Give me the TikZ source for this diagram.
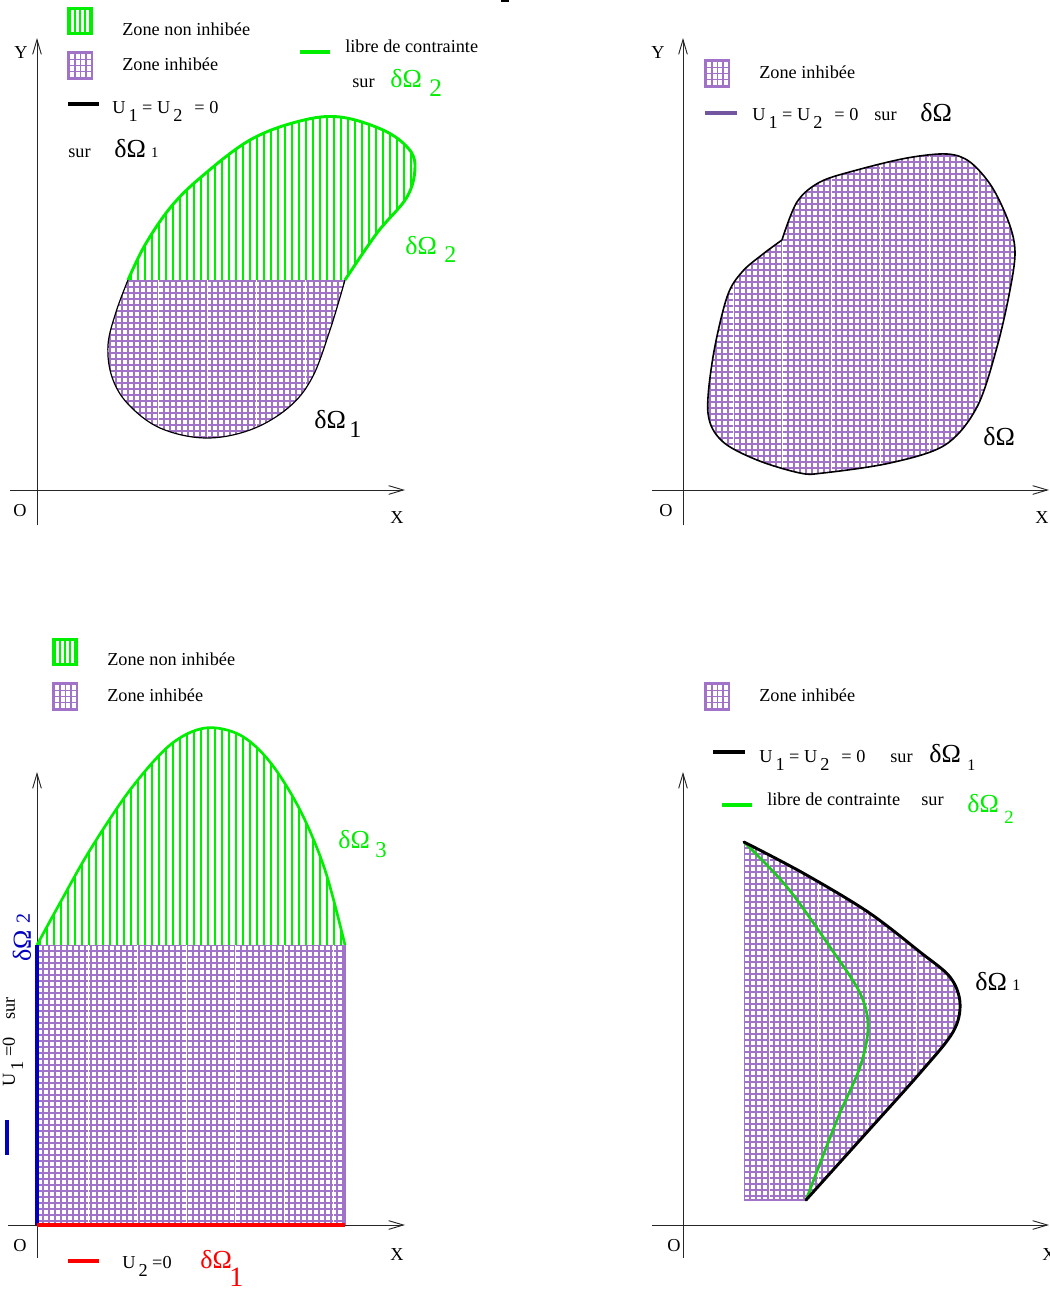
\documentclass[tikz,border=0pt]{standalone}
\usepackage{fontspec}
\setmainfont{Liberation Serif}
\usetikzlibrary{arrows.meta}
\definecolor{gpurple}{RGB}{160,114,200}
\definecolor{lgreen}{RGB}{0,238,0}
\definecolor{dgreen}{RGB}{30,200,30}
\definecolor{dblue}{RGB}{0,0,190}
\definecolor{lpurple}{RGB}{115,85,160}
\newcommand\fsz[1]{\fontsize{#1}{#1}\selectfont}
\newcommand\lo[1]{\raisebox{-6pt}{#1}}
\newcommand\dO{{\fsz{19.5pt}δΩ}}
\newcommand\psq[2]{%
  \fill[gpurple] (#1,#2) rectangle ++(26,29);
  \foreach \i in {0,1,2,3} \foreach \j in {0,1,2,3}
    {\fill[white] ({#1+3+5.6*\i},{#2+3+6*\j}) rectangle ++(4,4.5);}
}
\newcommand\gsq[2]{%
  \fill[lgreen] (#1,#2) rectangle ++(26,28);
  \foreach \i in {0,1,2,3}
    {\fill[white] ({#1+4+5*\i},{#2+3}) rectangle ++(3,22);}
}
% legend bar: x1, x2, y, colour
\newcommand\lbar[4]{\fill[#4] (#1,{#3-1.6}) rectangle (#2,{#3+1.6});}
\begin{document}
\begin{tikzpicture}[x=0.75pt,y=-0.75pt,
  txt/.style={inner sep=0pt, font=\fsz{13.7pt}},
  axisline/.style={line width=0.7pt, black!85, -{Straight Barb[length=11pt,width=6.5pt]}},
  gridl/.style={gpurple, line width=1.2pt},
  hatchl/.style={lgreen, line width=1pt},
  seam/.style={white, line width=0.7pt},
]
\useasboundingbox (0,0) rectangle (1050,1290);
\fill[white] (0,0) rectangle (1050,1290);
\fill[black] (501,0) rectangle (509,2);

% ================= TOP LEFT =================
\coordinate (tlYb) at (37,525); \coordinate (tlYt) at (37,38);
\coordinate (tlXl) at (10,490); \coordinate (tlXr) at (405,490);
\draw[axisline] (tlYb) -- (tlYt);
\draw[axisline] (tlXl) -- (tlXr);
\node[txt] (tlY) at (21,53) {Y};
\node[txt] (tlO) at (20,511) {O};
\node[txt] (tlX) at (397,518) {X};

\def\tlblack{(128,280) (116,312) (108,345) (112,377) (128,404) (160,428) (205,438) (250,430) (288,408) (312,378) (330,330) (345,280)}
\def\tlgreen{(128,280) (145,245) (170,208) (200,178) (250,140) (300,121) (340,117) (383,130) (408,148) (415,167) (407,197) (377,233) (345,280)}
\begin{scope}
\clip plot[smooth, tension=0.6] coordinates {\tlblack} -- cycle;
\draw[gridl] \foreach \gx in {104,110,...,350} {(\gx,278)--(\gx,445)};
\draw[gridl] \foreach \gy in {281,287,...,445} {(100,\gy)--(350,\gy)};
\draw[seam] \foreach \sx in {158,207,256,305} {(\sx,278)--(\sx,445)};
\end{scope}
\begin{scope}
\clip plot[smooth, tension=0.6] coordinates {\tlgreen} -- cycle;
\draw[hatchl] \foreach \gx in {131,138,...,420} {(\gx,100)--(\gx,280)};
\end{scope}
\draw[black, line width=0.9pt] plot[smooth, tension=0.6] coordinates {\tlblack};
\draw[lgreen, line width=2.2pt] plot[smooth, tension=0.6] coordinates {\tlgreen};

\gsq{67}{7}
\psq{67}{51}
\node[txt, anchor=base west] (tlz1) at (122,35) {Zone non inhibée};
\node[txt, anchor=base west] (tlz2) at (122,70) {Zone inhibée};
\lbar{68}{99}{104}{black}
\node[txt, anchor=base west] (tlu) at (112,113) {U\,\lo{1} = U\,\lo{2}\hspace{9pt}= 0};
\node[txt, anchor=base west] (tlsur) at (68,157) {sur};
\node[txt, anchor=base west] (tld1) at (114,157) {\dO\hspace{4pt}{\fsz{11pt}1}};
\lbar{300}{330}{52}{lgreen}
\node[txt, anchor=base west] (tllib) at (345,52) {libre de contrainte};
\node[txt, anchor=base west] (tlsur2) at (352,87) {sur};
\node[txt, anchor=base west, text=lgreen] (tld2) at (390,87) {\dO};
\node[txt, anchor=base west, text=lgreen] (tld2s) at (429,96) {\fsz{19pt}2};
\node[txt, anchor=base west, text=lgreen] (tlb2) at (405,254) {\dO};
\node[txt, anchor=base west, text=lgreen] (tlb2s) at (444,262) {\fsz{18pt}2};
\node[txt, anchor=base west] (tlb1) at (314,428) {\dO};
\node[txt, anchor=base west] (tlb1s) at (349,437) {\fsz{18pt}1};

% ================= TOP RIGHT =================
\coordinate (trYb) at (683,525); \coordinate (trYt) at (683,38);
\coordinate (trXl) at (652,490); \coordinate (trXr) at (1049,490);
\draw[axisline] (trYb) -- (trYt);
\draw[axisline] (trXl) -- (trXr);
\node[txt] (trY) at (658,53) {Y};
\node[txt] (trO) at (666,511) {O};
\node[txt] (trX) at (1042,518) {X};

\def\trshape{(782,240) (797,202) (820,182) (857,170) (907,158) (947,154) (970,162) (992,187) (1009,223) (1015,252) (1010,290) (997,347) (977,407) (945,445) (890,463) (823,473) (800,473) (757,460) (722,441) (708,413) (713,357) (727,297) (742,272) (763,254) (782,240)}
\begin{scope}
\clip plot[smooth, tension=0.55] coordinates {\trshape} -- cycle;
\draw[gridl] \foreach \gx in {704,710,...,1020} {(\gx,148)--(\gx,478)};
\draw[gridl] \foreach \gy in {150,156,...,478} {(700,\gy)--(1020,\gy)};
\draw[seam] \foreach \sx in {733,782,831,880,929,978} {(\sx,148)--(\sx,478)};
\end{scope}
\draw[black, line width=1.2pt] plot[smooth, tension=0.55] coordinates {\trshape};

\psq{704}{59}
\node[txt, anchor=base west] (trz) at (759,78) {Zone inhibée};
\lbar{705}{737}{113}{lpurple}
\node[txt, anchor=base west] (tru) at (752,120) {U\,\lo{1} = U\,\lo{2}\hspace{9pt}= 0};
\node[txt, anchor=base west] (trsur) at (874,120) {sur};
\node[txt, anchor=base west] (trd) at (920,121) {\dO};
\node[txt, anchor=base west] (trb) at (983,445) {\dO};

% ================= BOTTOM LEFT =================
\coordinate (blYb) at (37,1258); \coordinate (blYt) at (37,772);
\coordinate (blXl) at (8,1225); \coordinate (blXr) at (405,1225);
\draw[axisline] (blYb) -- (blYt);
\draw[axisline] (blXl) -- (blXr);
\node[txt] (blO) at (20,1246) {O};
\node[txt] (blX) at (397,1255) {X};

\begin{scope}
\clip (37,945) rectangle (345,1225);
\draw[gridl] \foreach \gx in {37,43,...,346} {(\gx,943)--(\gx,1227)};
\draw[gridl] \foreach \gy in {945,951,...,1227} {(35,\gy)--(347,\gy)};
\draw[seam] \foreach \sx in {88,137,186,235,284,333} {(\sx,943)--(\sx,1227)};
\end{scope}
\draw[gpurple, line width=1.2pt] (345,945) -- (345,1225);
\def\blarch{(37,945) (60,903) (90,850) (130,790) (170,745) (205,728) (240,735) (270,762) (300,810) (325,870) (345,945)}
\begin{scope}
\clip plot[smooth, tension=0.55] coordinates {\blarch} -- cycle;
\draw[hatchl] \foreach \gx in {40,47,...,345} {(\gx,720)--(\gx,945)};
\end{scope}
\draw[lgreen, line width=2pt] plot[smooth, tension=0.55] coordinates {\blarch};
\fill[dblue] (35.4,945) rectangle (38.6,1225);
\fill[red] (37,1223.4) rectangle (345,1226.6);

\gsq{52}{638}
\psq{52}{682}
\node[txt, anchor=base west] (blz1) at (107,665) {Zone non inhibée};
\node[txt, anchor=base west] (blz2) at (107,701) {Zone inhibée};
\node[txt, anchor=base west, text=lgreen] (bld3) at (338,848) {\dO};
\node[txt, anchor=base west, text=lgreen] (bld3s) at (375,857) {\fsz{17pt}3};

\lbar{68}{99}{1261}{red}
\node[txt, anchor=base west] (blu2) at (122,1268) {U\,\lo{2} =0};
\node[txt, anchor=base west, text=red] (bldr) at (200,1268) {\dO};
\node[txt, anchor=base west, text=red] (bldrs) at (229,1286) {\fsz{21pt}1};

\fill[dblue] (5.4,1120) rectangle (8.6,1155);
\node[txt, anchor=base west, rotate=90] (blrot1) at (15,1087) {U\,\lo{1} =0};
\node[txt, anchor=base west, rotate=90] (blrot2) at (15,1020) {sur};
\node[txt, anchor=base west, rotate=90, text=dblue] (blrot3) at (31,962) {\dO};
\node[txt, anchor=base west, rotate=90, text=dblue] (blrot4) at (30,924) {\fsz{15pt}2};

% ================= BOTTOM RIGHT =================
\coordinate (brYb) at (683,1258); \coordinate (brYt) at (683,772);
\coordinate (brXl) at (652,1225); \coordinate (brXr) at (1049,1225);
\draw[axisline] (brYb) -- (brYt);
\draw[axisline] (brXl) -- (brXr);
\node[txt] (brO) at (674,1246) {O};
\node[txt] (brX) at (1049,1255) {X};

\def\brblack{(744,842) (803,873) (868,912) (920,952) (950,977) (960,1003) (953,1032) (920,1073) (860,1140) (806,1200)}
\begin{scope}
\clip plot[smooth, tension=0.55] coordinates {\brblack} -- (744,1200) -- cycle;
\draw[gridl] \foreach \gx in {744,750,...,966} {(\gx,840)--(\gx,1202)};
\draw[gridl] \foreach \gy in {842,848,...,1202} {(742,\gy)--(966,\gy)};
\draw[seam] \foreach \sx in {769,818,867,916} {(\sx,840)--(\sx,1202)};
\end{scope}
\draw[gpurple, line width=1.2pt] (744,1200) -- (806,1200);
\draw[dgreen, line width=2pt] plot[smooth, tension=0.55] coordinates {(744,842) (787,887) (830,947) (860,993) (868,1027) (860,1067) (837,1120) (806,1200)};
\draw[black, line width=2.2pt, line cap=round] plot[smooth, tension=0.55] coordinates {\brblack};

\psq{704}{682}
\node[txt, anchor=base west] (brz) at (759,701) {Zone inhibée};
\lbar{713}{745}{752}{black}
\node[txt, anchor=base west] (bru) at (759,762) {U\,\lo{1} = U\,\lo{2}\hspace{9pt}= 0};
\node[txt, anchor=base west] (brsur) at (890,762) {sur};
\node[txt, anchor=base west] (brd1) at (929,762) {\dO};
\node[txt, anchor=base west] (brd1s) at (967,770) {\fsz{12pt}1};
\lbar{722}{752}{805}{lgreen}
\node[txt, anchor=base west] (brlib) at (767,805) {libre de contrainte};
\node[txt, anchor=base west] (brsur2) at (921,805) {sur};
\node[txt, anchor=base west, text=lgreen] (brd2) at (967,812) {\dO};
\node[txt, anchor=base west, text=lgreen] (brd2s) at (1004,823) {\fsz{14pt}2};
\node[txt, anchor=base west] (brb1) at (975,990) {\dO};
\node[txt, anchor=base west] (brb1s) at (1012,990) {\fsz{12pt}1};
\end{tikzpicture}
\end{document}
